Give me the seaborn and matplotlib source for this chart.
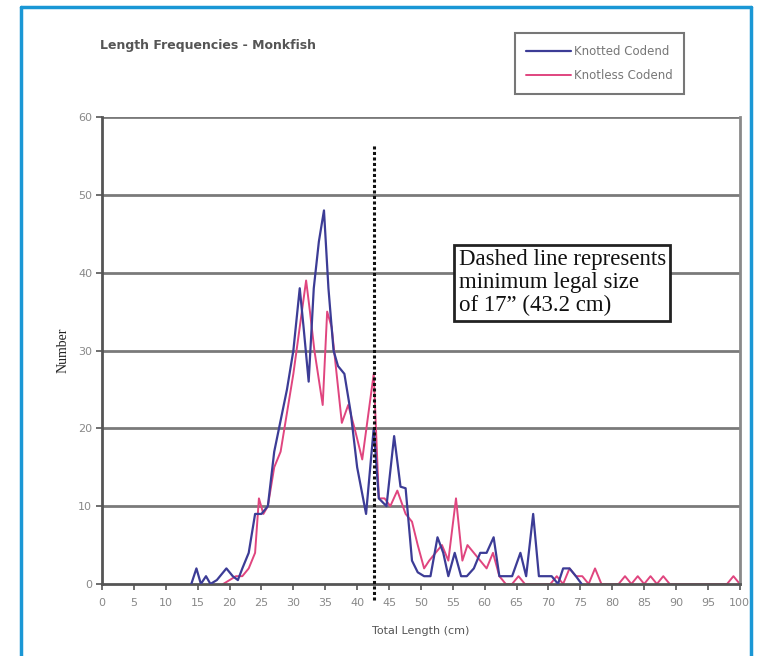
import matplotlib
matplotlib.use("Agg")
import matplotlib.pyplot as plt
import seaborn as sns
import pandas as pd

# ---- data ----
knotted_x = [14, 14.8, 15.5, 16.3, 17, 18, 19.5, 20.5, 21.3, 22, 23, 24, 25, 26, 27, 28, 29, 30,
             31, 31.6, 32.4, 33.2, 34, 34.8, 35.5, 36.3, 37, 38, 39, 40, 41.4, 42.6, 43.4, 44.6,
             45.8, 46.8, 47.6, 48.6, 49.5, 50.5, 51.5, 52.6, 53.5, 54.3, 55.3, 56.3, 57.2, 58.3,
             59.3, 60.3, 61.4, 62.3, 63.3, 64.3, 65.6, 66.5, 67.6, 68.5, 69.5, 70.5, 71.5, 72.3,
             73.3, 74.3, 75.2]
knotted_y = [0, 2, 0, 1, 0, 0.5, 2, 1, 0.5, 2, 4, 9, 9, 10, 17, 21, 25, 30,
             38, 33, 26, 38, 44, 48, 38, 30, 28, 27, 22, 15, 9, 20, 11, 10,
             19, 12.5, 12.3, 3, 1.5, 1, 1, 6, 4, 1, 4, 1, 1, 2,
             4, 4, 6, 1, 1, 1, 4, 1, 9, 1, 1, 1, 0, 2,
             2, 1, 0]
knotless_x = [19, 20, 21, 22, 23, 24, 24.6, 25.3, 26, 27, 28, 29, 30, 31, 32, 32.6, 33.3, 34.6,
              35.3, 36, 37.6, 38.6, 39.6, 40.8, 42.6, 43.4, 44.3, 45.2, 46.3, 47.6, 48.6, 49.5,
              50.5, 51.3, 52.3, 53.3, 54.3, 55.5, 56.5, 57.3, 58.3, 59.3, 60.3, 61.3, 62.3, 63.3,
              64.3, 65.3, 66.3, 67.3, 68.3, 69.3, 70.3, 71.3, 72.3, 73.3, 74.3, 75.3, 76.3, 77.3,
              78.3, 81, 82, 83, 84, 85, 86, 87, 88, 89, 98, 99, 100]
knotless_y = [0, 0.5, 1, 1, 2, 4, 11, 9, 10, 15, 17, 22, 27, 33, 39, 35, 30, 23,
              35, 33, 20.7, 23, 20, 16, 27, 11, 11, 10, 12, 9, 8, 5,
              2, 3, 4, 5, 3, 11, 3, 5, 4, 3, 2, 4, 1, 0,
              0, 1, 0, 0, 0, 0, 0, 1, 0, 2, 1, 1, 0, 2,
              0, 0, 1, 0, 1, 0, 1, 0, 1, 0, 0, 1, 0]

x_ticks = list(range(0, 101, 5))
y_ticks = list(range(0, 61, 10))
legal_size_line = 42.7

df_k = pd.DataFrame({"Total Length (cm)": knotted_x, "Number": knotted_y})
df_n = pd.DataFrame({"Total Length (cm)": knotless_x, "Number": knotless_y})

sns.set_theme(style="white")
plt.rcParams['font.family'] = ['DejaVu Sans']

fig = plt.figure(figsize=(7.58, 6.56), dpi=100)
ax = fig.add_axes([0.1346, 0.1098, 0.976 - 0.1346, 0.8216 - 0.1098])

for y in y_ticks[1:]:
    ax.axhline(y, color="#7a7a7a", lw=2.0, zorder=1)

blue = "#3c3c96"
pink = "#e0457f"
sns.lineplot(data=df_k, x="Total Length (cm)", y="Number", ax=ax, color=blue, lw=1.6,
             label="Knotted Codend", sort=False, zorder=3)
sns.lineplot(data=df_n, x="Total Length (cm)", y="Number", ax=ax, color=pink, lw=1.4,
             label="Knotless Codend", sort=False, zorder=2)

ax.plot([legal_size_line, legal_size_line], [-2.0, 56.5], color="#111111", lw=2.2,
        linestyle=(0, (1.0, 0.8)), clip_on=False, zorder=4)

ax.set_xlim(0, 100)
ax.set_ylim(0, 60)
ax.set_xticks(x_ticks)
ax.set_yticks(y_ticks)
ax.tick_params(axis="both", which="both", direction="out", length=4, width=1.2,
               colors="#555555", labelsize=8, labelcolor="#888888", bottom=True, left=True)
ax.tick_params(axis="x", pad=6)
ax.tick_params(axis="y", pad=3)
for s in ["left", "bottom"]:
    ax.spines[s].set_color("#555555")
    ax.spines[s].set_linewidth(2.0)
ax.spines["right"].set_color("#8a8a8a")
ax.spines["right"].set_linewidth(2.0)
ax.spines["top"].set_visible(False)

ax.set_xlabel("Total Length (cm)", fontsize=8, color="#555555", labelpad=13)
ax.set_ylabel("Number", fontsize=10, color="#222222", family="Liberation Serif", labelpad=6)

leg = ax.legend(loc="upper left", bbox_to_anchor=(0.647, 1.18), frameon=True, fontsize=8.5,
                handlelength=3.8, handletextpad=0.2, borderpad=1.0, labelspacing=0.95,
                fancybox=False, labelcolor="#777777", borderaxespad=0)
leg.get_frame().set_edgecolor("#555555")
leg.get_frame().set_linewidth(1.5)

fig.text(0.132, 0.931, "Length Frequencies - Monkfish", fontsize=9, fontweight="bold",
         color="#555555", ha="left", va="center")

ax.text(55.9, 43.0, "Dashed line represents\nminimum legal size\nof 17\u201d (43.2 cm)",
        fontsize=16.5, family="Liberation Serif", color="#111111", ha="left", va="top",
        linespacing=1.12,
        bbox=dict(boxstyle="square,pad=0.2", facecolor="white", edgecolor="#222222", lw=2.0),
        zorder=5)

# blue page border
border_color = "#1a97d5"
bx0, bx1, by = 21/758, 751/758, 1 - 7/656
fig.add_artist(plt.Line2D([bx0, bx0], [0, by], transform=fig.transFigure,
                          color=border_color, lw=2.5))
fig.add_artist(plt.Line2D([bx0, bx1], [by, by], transform=fig.transFigure,
                          color=border_color, lw=2.5))
fig.add_artist(plt.Line2D([bx1, bx1], [0, by], transform=fig.transFigure,
                          color=border_color, lw=2.5))

fig.savefig("out.png", dpi=100)
